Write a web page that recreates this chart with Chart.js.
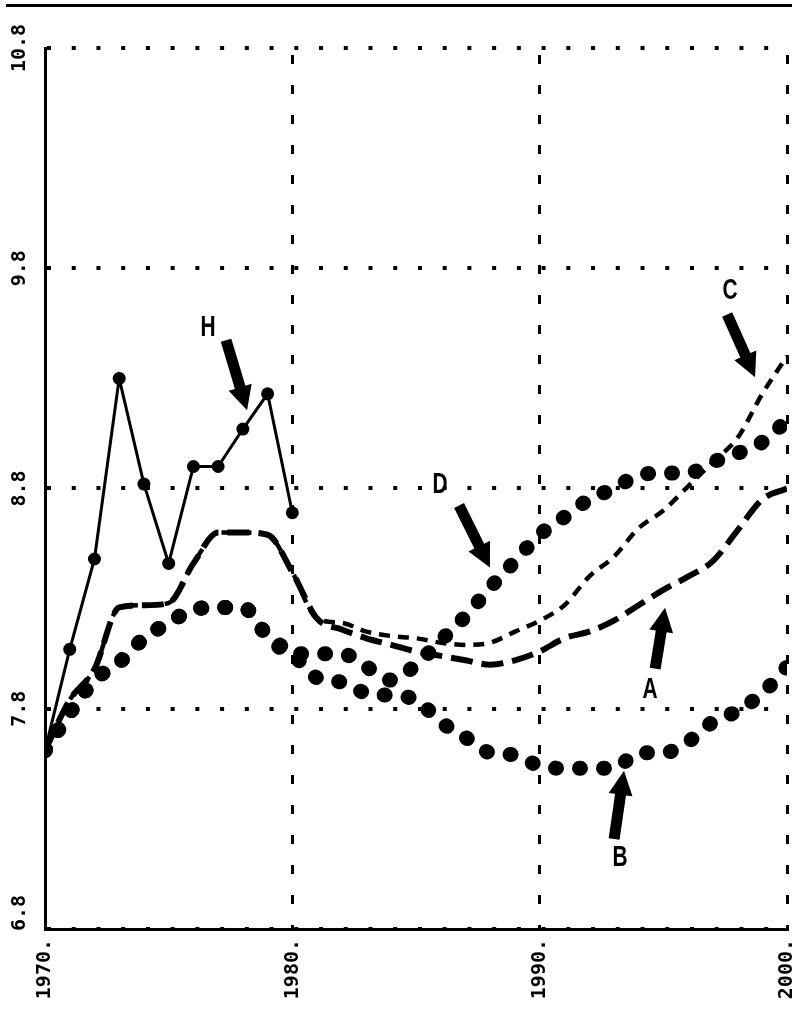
<!DOCTYPE html>
<html>
<head>
<meta charset="utf-8">
<script src="https://cdn.jsdelivr.net/npm/chart.js@4.4.0/dist/chart.umd.min.js"></script>
<style>
  html, body { margin: 0; padding: 0; background: #fff; }
  #wrap { position: relative; width: 796px; height: 1015px; }
  #rule { position: absolute; left: 6px; top: 4px; width: 786px; height: 3px; background: #000; }
  canvas { display: block; }
</style>
</head>
<body>
<div id="wrap">
  <div id="rule"></div>
  <canvas id="chart" width="796" height="1015"></canvas>
</div>
<script>
// Years on the horizontal axis
const years = [1970, 1971, 1972, 1973, 1974, 1975, 1976, 1977, 1978, 1979, 1980,
               1981, 1982, 1983, 1984, 1985, 1986, 1987, 1988, 1989, 1990,
               1991, 1992, 1993, 1994, 1995, 1996, 1997, 1998, 1999, 2000];

// Observed series H (1970-1980)
const histYears = [1970, 1971, 1972, 1973, 1974, 1975, 1976, 1977, 1978, 1979, 1980];
const seriesH = [7.61, 8.07, 8.48, 9.30, 8.82, 8.46, 8.90, 8.90, 9.07, 9.23, 8.69];

// Projected series A-D (1970-2000)
const seriesA = [7.61, 7.84, 7.98, 8.26, 8.27, 8.28, 8.46, 8.60, 8.60, 8.59, 8.42,
                 8.21, 8.16, 8.12, 8.09, 8.06, 8.04, 8.02, 8.00, 8.02, 8.06,
                 8.12, 8.15, 8.20, 8.27, 8.34, 8.40, 8.47, 8.61, 8.75, 8.80];
const seriesC = [7.61, 7.84, 7.98, 8.26, 8.27, 8.28, 8.46, 8.60, 8.60, 8.59, 8.42,
                 8.21, 8.19, 8.15, 8.13, 8.12, 8.10, 8.09, 8.10, 8.15, 8.20,
                 8.27, 8.40, 8.49, 8.62, 8.70, 8.81, 8.92, 9.03, 9.23, 9.40];
const seriesB = [7.61, 7.78, 7.93, 8.01, 8.12, 8.19, 8.25, 8.26, 8.26, 8.13, 8.05,
                 7.94, 7.92, 7.87, 7.86, 7.84, 7.74, 7.67, 7.60, 7.59, 7.54,
                 7.53, 7.53, 7.53, 7.60, 7.60, 7.65, 7.74, 7.79, 7.87, 7.99];
const seriesD = [7.61, 7.78, 7.93, 8.01, 8.12, 8.19, 8.25, 8.26, 8.26, 8.13, 8.05,
                 8.05, 8.05, 7.99, 7.93, 8.00, 8.11, 8.22, 8.35, 8.47, 8.59,
                 8.67, 8.75, 8.80, 8.86, 8.87, 8.87, 8.92, 8.96, 9.01, 9.11];

// Axis ticks and their labels
const xTicks = [1970, 1980, 1990, 2000];
const xTickLabels = ['1970.', '1980.', '1990.', '2000.'];
const yTicks = [6.8, 7.8, 8.8, 9.8, 10.8];
const yTickLabels = ['6.8', '7.8', '8.8', '9.8', '10.8'];

// Letter callouts with arrows, given in axis units [year, value]
const callouts = [
  { text: 'H', label: [1976.59, 9.527], tail: [1977.32, 9.473], head: [1978.17, 9.155] },
  { text: 'C', label: [1997.70, 9.695], tail: [1997.58, 9.590], head: [1998.71, 9.305] },
  { text: 'D', label: [1985.97, 8.818], tail: [1986.74, 8.723], head: [1987.99, 8.441] },
  { text: 'A', label: [1994.46, 7.886], tail: [1994.67, 7.982], head: [1995.07, 8.259] },
  { text: 'B', label: [1993.25, 7.123], tail: [1993.01, 7.209], head: [1993.41, 7.518] }
];

const toPoints = (xs, ys) => xs.map((x, i) => ({ x: x, y: ys[i] }));

const overlay = {
  id: 'overlay',
  afterDraw(chart) {
    const ctx = chart.ctx;
    const xs = chart.scales.x, ys = chart.scales.y;
    ctx.save();
    ctx.fillStyle = '#000';

    // vertical value labels on the left
    ctx.font = 'bold 20px "DejaVu Sans Mono"';
    ctx.textAlign = 'center';
    ctx.textBaseline = 'middle';
    yTicks.forEach((v, i) => {
      const py = Math.min(ys.getPixelForValue(v), ys.bottom - 16);
      ctx.save();
      ctx.translate(20, py);
      ctx.rotate(-Math.PI / 2);
      ctx.fillText(yTickLabels[i], 0, 0);
      ctx.restore();
    });

    // arrows and letters
    callouts.forEach(c => {
      const tx = xs.getPixelForValue(c.tail[0]), ty = ys.getPixelForValue(c.tail[1]);
      const hx = xs.getPixelForValue(c.head[0]), hy = ys.getPixelForValue(c.head[1]);
      const dx = hx - tx, dy = hy - ty, len = Math.hypot(dx, dy);
      const ux = dx / len, uy = dy / len, nx = -uy, ny = ux;
      const headLen = 24, headHalf = 12, shaftHalf = 5.5;
      const bx = hx - ux * headLen, by = hy - uy * headLen;
      ctx.beginPath();
      ctx.moveTo(tx + nx * shaftHalf, ty + ny * shaftHalf);
      ctx.lineTo(bx + nx * shaftHalf, by + ny * shaftHalf);
      ctx.lineTo(bx + nx * headHalf, by + ny * headHalf);
      ctx.lineTo(hx, hy);
      ctx.lineTo(bx - nx * headHalf, by - ny * headHalf);
      ctx.lineTo(bx - nx * shaftHalf, by - ny * shaftHalf);
      ctx.lineTo(tx - nx * shaftHalf, ty - ny * shaftHalf);
      ctx.closePath();
      ctx.fill();

      // tall narrow letter
      ctx.save();
      ctx.translate(xs.getPixelForValue(c.label[0]), ys.getPixelForValue(c.label[1]));
      ctx.scale(0.72, 1);
      ctx.font = 'bold 29px "Liberation Sans"';
      ctx.fillText(c.text, 0, 0);
      ctx.restore();
    });
    ctx.restore();
  }
};

new Chart(document.getElementById('chart'), {
  type: 'line',
  data: {
    datasets: [
      {
        label: 'H', data: toPoints(histYears, seriesH),
        borderColor: '#000', backgroundColor: '#000', borderWidth: 3,
        pointRadius: 6.5, pointBackgroundColor: '#000', pointBorderWidth: 0, tension: 0
      },
      {
        label: 'A', data: toPoints(years, seriesA),
        borderColor: '#000', borderWidth: 6, borderDash: [22, 9],
        pointRadius: 0, cubicInterpolationMode: 'monotone'
      },
      {
        label: 'C', data: toPoints(years, seriesC),
        borderColor: '#000', borderWidth: 4.5, borderDash: [11, 8],
        pointRadius: 0, cubicInterpolationMode: 'monotone'
      },
      {
        label: 'B', data: toPoints(years, seriesB),
        borderColor: '#000', borderWidth: 15, borderDash: [1, 23], borderCapStyle: 'round',
        pointRadius: 0, cubicInterpolationMode: 'monotone'
      },
      {
        label: 'D', data: toPoints(years, seriesD),
        borderColor: '#000', borderWidth: 15, borderDash: [1, 23], borderCapStyle: 'round',
        pointRadius: 0, cubicInterpolationMode: 'monotone'
      }
    ]
  },
  options: {
    responsive: false,
    animation: false,
    devicePixelRatio: 1,
    layout: { padding: { top: 48, right: 9, left: 0, bottom: 0 } },
    plugins: { legend: { display: false }, tooltip: { enabled: false } },
    scales: {
      x: {
        type: 'linear', min: 1970, max: 2000,
        afterBuildTicks: s => { s.ticks = xTicks.map(v => ({ value: v })); },
        afterFit: s => { s.height = 86; s.paddingLeft = 0; s.paddingRight = 0; },
        ticks: {
          autoSkip: false, minRotation: 90, maxRotation: 90, padding: 10, color: '#000',
          font: { family: 'DejaVu Sans Mono', weight: 'bold', size: 20 },
          callback: (v, i) => xTickLabels[i]
        },
        grid: { color: '#000', lineWidth: 3, drawTicks: false },
        border: { display: true, color: '#000', width: 3, dash: [9, 21], dashOffset: 23 }
      },
      y: {
        type: 'linear', min: 6.8, max: 10.8,
        afterBuildTicks: s => { s.ticks = yTicks.map(v => ({ value: v })); },
        afterFit: s => { s.width = 45; },
        ticks: { display: false },
        grid: { color: '#000', lineWidth: 4, drawTicks: false },
        border: { display: true, color: '#000', width: 3, dash: [4, 20.73] }
      }
    }
  },
  plugins: [overlay]
});
</script>
</body>
</html>
